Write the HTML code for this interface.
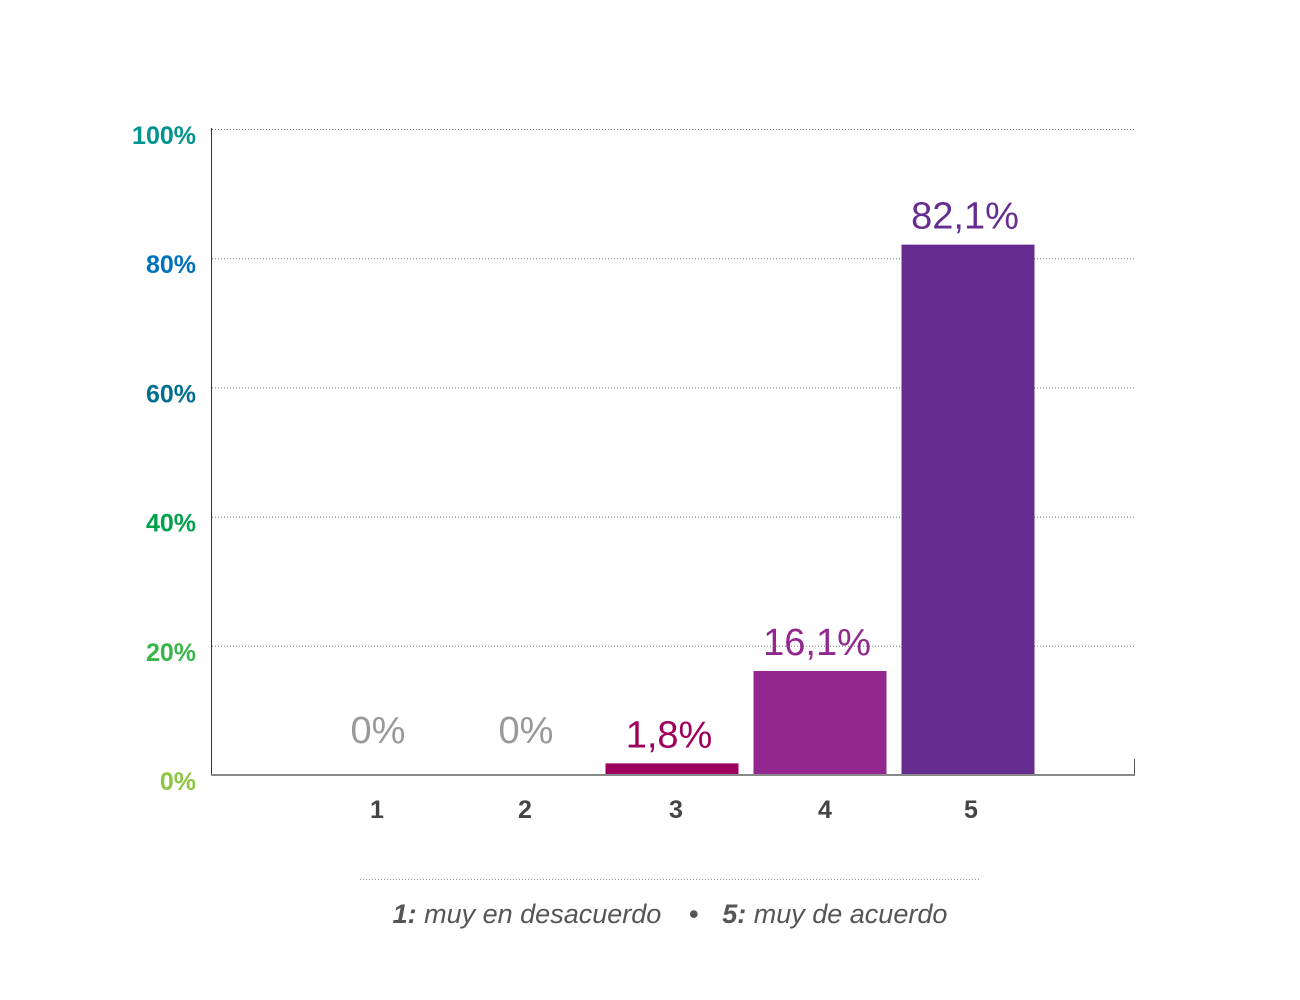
<!DOCTYPE html>
<html><head><meta charset="utf-8"><style>
body{margin:0;background:#fff;}
svg{display:block;font-family:"Liberation Sans",sans-serif;}
</style></head><body>
<svg id="chart" width="1300" height="1000">
<g id="grid"></g><g id="bars"></g><g id="labels"></g>
<line x1="211.5" y1="128" x2="211.5" y2="775" stroke="#333" stroke-width="1"/>
<line x1="211" y1="775" x2="1135" y2="775" stroke="#888" stroke-width="2"/>
<line x1="1134.5" y1="759" x2="1134.5" y2="775" stroke="#555" stroke-width="1"/>
<line x1="360" y1="879.5" x2="980" y2="879.5" stroke="#999" stroke-dasharray="1,2"/>
<text x="670" y="923" text-anchor="middle" font-size="27" font-style="italic" fill="#555"><tspan font-weight="bold">1:</tspan> muy en desacuerdo <tspan dx="20" font-weight="bold">•</tspan><tspan dx="24" font-weight="bold">5:</tspan> muy de acuerdo</text>
</svg>
<script>
const categories=["1","2","3","4","5"];
const values=[0,0,1.8,16.1,82.1];
const valueLabels=["0%","0%","1,8%","16,1%","82,1%"];
const ticks=[0,20,40,60,80,100];
const tickLabels=["0%","20%","40%","60%","80%","100%"];
const tickColors=["#8dc63f","#39b54a","#00a14b","#006f8f","#0071bc","#00938f"];
const barColors=["#999","#999","#9e005d","#92278f","#662d91"];
const labelColors=["#999","#999","#9e005d","#92278f","#662d91"];
const NS="http://www.w3.org/2000/svg";
const y=v=>775-v*6.46;
const x=i=>376+i*148;
const bw=133;
function mk(t,a,p,txt){const e=document.createElementNS(NS,t);for(const k in a)e.setAttribute(k,a[k]);if(txt!==undefined)e.textContent=txt;document.getElementById(p).appendChild(e);return e;}
ticks.forEach((t,i)=>{
  if(t>0){const l=mk('line',{x1:212,x2:1135,y1:y(t)+0.5,y2:y(t)+0.5,stroke:'#777','stroke-dasharray':'1,2'},'grid');
  
  }
  const tx=mk('text',{x:196,y:y(t)+15,'text-anchor':'end','font-size':25,'font-weight':'bold',fill:tickColors[i]},'labels',tickLabels[i]);
  
  
});
categories.forEach((c,i)=>{
  const cx=x(i);
  if(values[i]>0){const r=mk('rect',{x:cx-bw/2,y:y(values[i]),width:bw,height:775-y(values[i]),fill:barColors[i]},'bars');
  
  }
  const vl=mk('text',{x:cx+(i<2?2:-3),y:y(values[i])-(i<2?32:16),'text-anchor':'middle','font-size':38,fill:labelColors[i]},'labels',valueLabels[i]);
  
  
  const xl=mk('text',{x:cx+(i<2?1:i==2?4:i==3?5:3),y:818,'text-anchor':'middle','font-size':25,'font-weight':'bold',fill:'#444'},'labels',c);
  
  
});
</script>
</body></html>
